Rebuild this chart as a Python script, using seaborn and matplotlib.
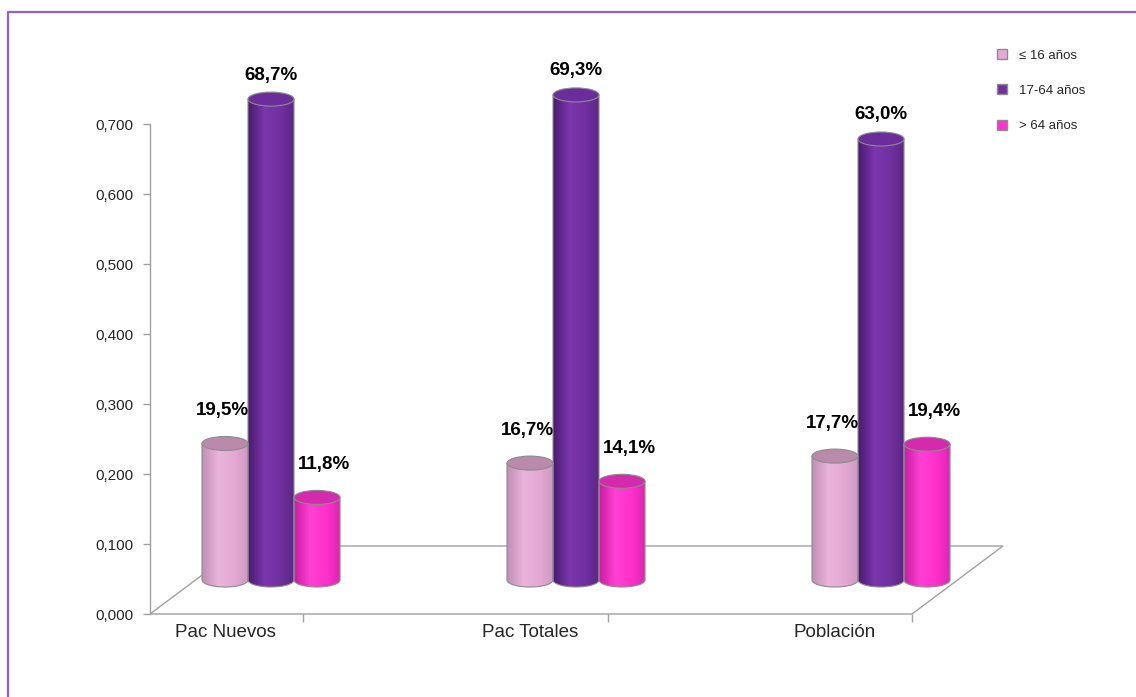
import numpy as np
import pandas as pd
import matplotlib
matplotlib.use("Agg")
import matplotlib.pyplot as plt
import seaborn as sns
from matplotlib.patches import Polygon, Ellipse
from matplotlib.colors import LinearSegmentedColormap
from matplotlib.lines import Line2D

# ---- data -------------------------------------------------------------
categories = ["Pac Nuevos", "Pac Totales", "Población"]
age_groups = ["≤ 16 años", "17-64 años", "> 64 años"]
share_under_17 = [0.195, 0.167, 0.177]
share_17_64 = [0.687, 0.693, 0.630]
share_over_64 = [0.118, 0.141, 0.194]
y_ticks = [0.0, 0.1, 0.2, 0.3, 0.4, 0.5, 0.6, 0.7]

df = pd.DataFrame({
    "categoria": categories * 3,
    "grupo": np.repeat(age_groups, len(categories)),
    "valor": share_under_17 + share_17_64 + share_over_64,
})

# ---- styling ----------------------------------------------------------
base_colors = {"≤ 16 años": "#E6AAD6", "17-64 años": "#7030A0", "> 64 años": "#FF33CC"}
side_shades = {
    "≤ 16 años": ["#C08EB6", "#EAB4DB", "#E4A8D4", "#CC98C2"],
    "17-64 años": ["#481A6E", "#7B37AD", "#7030A0", "#5A2684"],
    "> 64 años": ["#C81DA2", "#FF40D3", "#FF30CB", "#D925B2"],
}
cap_colors = {"≤ 16 años": "#B98AA9", "17-64 años": "#6C2D9C", "> 64 años": "#D42AAE"}
label_offsets_px = {"≤ 16 años": (-3, 33), "17-64 años": (0, 24), "> 64 años": (7, 33)}

sns.set_style("white")
plt.rcParams["font.family"] = ["Liberation Sans", "DejaVu Sans"]

W, H = 1136, 697
fig = plt.figure(figsize=(W / 100, H / 100), dpi=100)


def px_rect(left, top, right, bottom):
    return [left / W, 1 - bottom / H, (right - left) / W, (bottom - top) / H]


grey = "#A0A0A0"
x_unit_px = 305.0
px_per_value = 700.0
xlim = ((150 - 225) / x_unit_px, (912 - 225) / x_unit_px)

# front axis frame (value scale + category labels)
ax = fig.add_axes(px_rect(150, 124, 912, 614))
ax.set_xlim(xlim)
ax.set_ylim(0, 0.7)
ax.set_facecolor("none")
for side in ["top", "right", "bottom"]:
    ax.spines[side].set_visible(False)
ax.spines["left"].set_color(grey)
ax.spines["left"].set_linewidth(1.0)
ax.set_yticks(y_ticks)
ax.set_yticklabels([f"{t:.3f}".replace(".", ",") for t in y_ticks], fontsize=11)
ax.tick_params(axis="y", direction="out", length=5, width=1, color=grey, pad=7, left=True)
ax.set_xticks(range(len(categories)))
ax.set_xticklabels(categories, fontsize=13.5)
ax.tick_params(axis="x", which="major", length=0, pad=7)
boundaries = [i + (303 - 225) / x_unit_px for i in range(len(categories) - 1)] + [xlim[1]]
ax.set_xticks(boundaries, minor=True)
ax.tick_params(axis="x", which="minor", direction="out", length=6, width=1, color=grey, bottom=True)
ax.grid(False)

# floor of the 3-D plot
depth_x = 91 / x_unit_px
depth_y = 68 / px_per_value
floor = Polygon(
    [(xlim[0], 0), (xlim[1], 0), (xlim[1] + depth_x, depth_y), (xlim[0] + depth_x, depth_y)],
    closed=True, facecolor="none", edgecolor=grey, lw=1.0, clip_on=False, zorder=0,
)
ax.add_patch(floor)

# bar plane sits half way into the depth
bx = fig.add_axes(px_rect(150 + 46, 20, 912 + 46, 615))
sns.barplot(
    data=df, x="categoria", y="valor", hue="grupo",
    order=categories, hue_order=age_groups, palette=base_colors,
    width=0.4525, saturation=1, legend=False, ax=bx,
)
bx.set_facecolor("none")
bx.axis("off")

ellipse_h = 14 / px_per_value
palette_rgb = {g: np.array(matplotlib.colors.to_rgb(c)) for g, c in base_colors.items()}
grad = np.linspace(0, 1, 256)[np.newaxis, :]

for p in list(bx.patches):
    rgb = np.array(p.get_facecolor()[:3])
    group = min(palette_rgb, key=lambda g: np.abs(palette_rgb[g] - rgb).sum())
    x0, w, h = p.get_x(), p.get_width(), p.get_height()
    cx = x0 + w / 2
    p.set_visible(False)

    t = np.linspace(0, np.pi, 80)
    arc = list(zip(cx + w / 2 * np.cos(t), -ellipse_h / 2 * np.sin(t)))
    body = Polygon([(x0, h), (x0 + w, h)] + arc, closed=True,
                   facecolor="none", edgecolor="#8C8C8C", lw=0.8, zorder=3, clip_on=False)
    bx.add_patch(body)

    cmap = LinearSegmentedColormap.from_list(
        group, list(zip([0.0, 0.35, 0.7, 1.0], side_shades[group])))
    img = bx.imshow(grad, extent=[x0, x0 + w, -ellipse_h, h], aspect="auto",
                    cmap=cmap, interpolation="bicubic", zorder=2, clip_on=True)
    img.set_clip_path(body)

    cap = Ellipse((cx, h), w, ellipse_h, facecolor=cap_colors[group],
                  edgecolor="#8C8C8C", lw=0.8, zorder=4, clip_on=False)
    bx.add_patch(cap)

    dx, dy = label_offsets_px[group]
    bx.annotate(f"{h * 100:.1f}%".replace(".", ","), (cx, h),
                xytext=(dx * 0.72, dy * 0.72), textcoords="offset points",
                ha="center", va="center", fontsize=13.5, fontweight="bold",
                color="black", zorder=5, annotation_clip=False)

bx.set_xlim(xlim)
bx.set_ylim(-0.05, 0.8)

# legend
handles = [Line2D([], [], marker="s", ls="", markersize=6.5,
                  markerfacecolor=base_colors[g], markeredgecolor="#8C8C8C",
                  markeredgewidth=1.0) for g in age_groups]
fig.legend(handles, age_groups, loc="upper left", bbox_to_anchor=(991 / W, 1 - 44 / H),
           frameon=False, fontsize=9.5, handlelength=0.8, handletextpad=0.9,
           labelspacing=1.75, borderaxespad=0)

# chart border (top and left edges)
fig.add_artist(Line2D([8 / W, 8 / W, 1.0], [0.0, 1 - 12 / H, 1 - 12 / H],
                      transform=fig.transFigure, color="#9160C8", lw=1.6))

fig.savefig("out.png", dpi=100, facecolor="white")
